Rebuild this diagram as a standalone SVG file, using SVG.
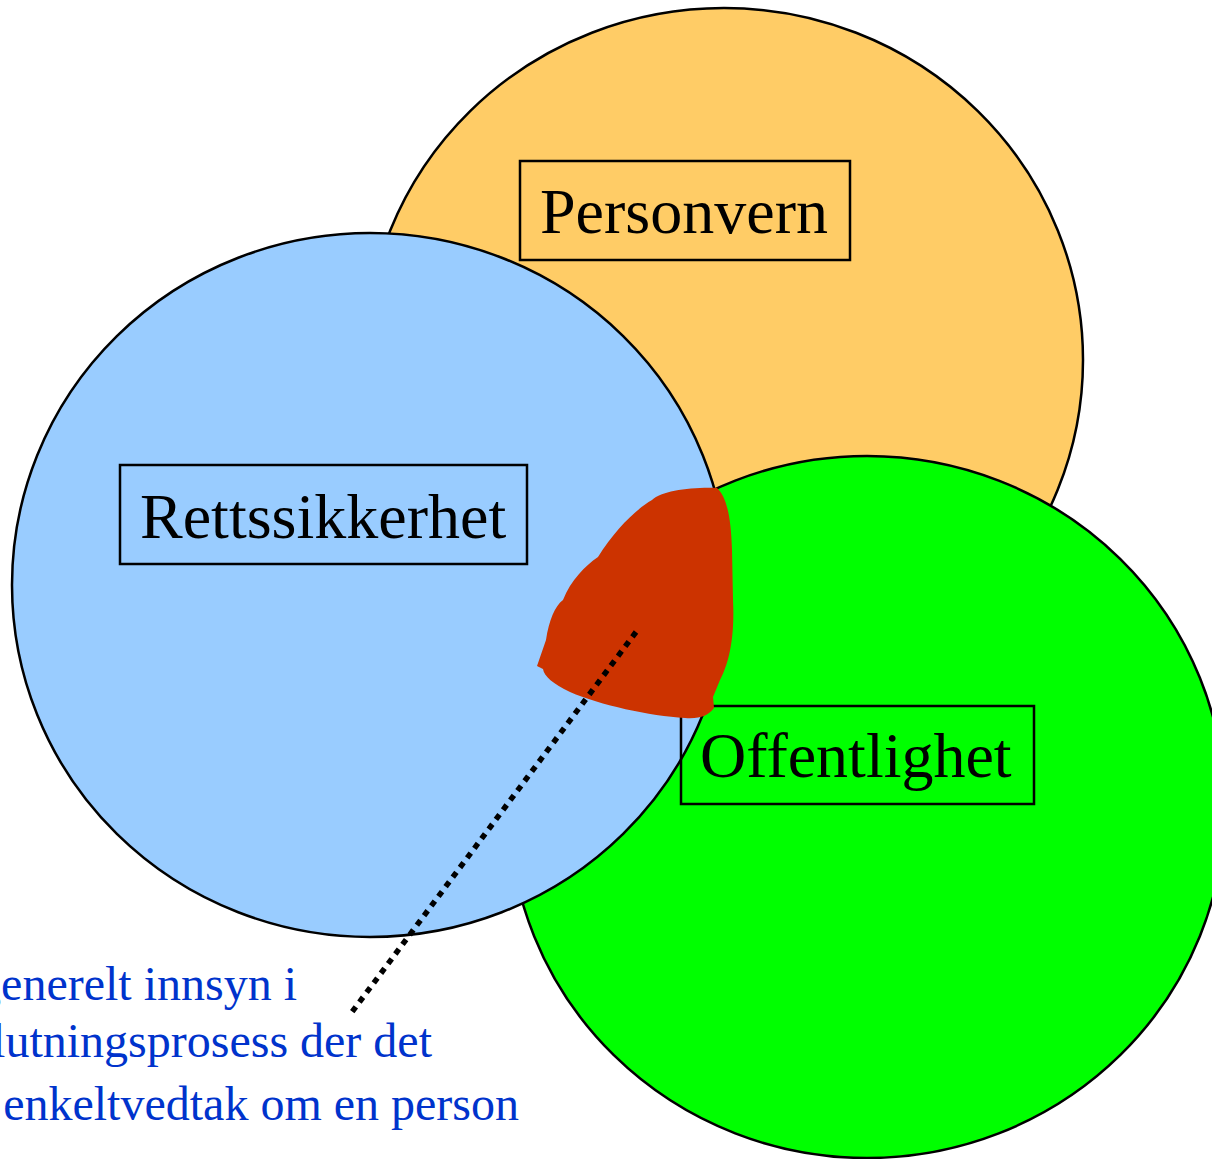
<svg xmlns="http://www.w3.org/2000/svg" width="1212" height="1159" viewBox="0 0 1212 1159">
<style>
.circ{stroke:#000;stroke-width:2.5}
.box{fill:none;stroke:#000;stroke-width:2.5}
.lbl{font-family:"Liberation Serif","Times New Roman",serif;font-size:64px;fill:#000}
.note{font-family:"Liberation Serif","Times New Roman",serif;font-size:48px;fill:#0033CC;text-anchor:end}
</style>
<rect width="1212" height="1159" fill="#fff"/>
<g id="personvern-circle"><ellipse class="circ" cx="724" cy="360" rx="359" ry="352" fill="#FFCC66"/></g>
<g id="offentlighet-circle"><ellipse class="circ" cx="867" cy="807" rx="358" ry="351" fill="#00FF00"/></g>
<g id="rettssikkerhet-circle"><ellipse class="circ" cx="370" cy="585" rx="358" ry="352" fill="#99CCFF"/></g>
<g id="personvern"><rect class="box" x="520" y="161" width="330" height="99"/><text class="lbl" x="540" y="233">Personvern</text></g>
<g id="rettssikkerhet"><rect class="box" x="120" y="465" width="407" height="99"/><text class="lbl" x="140" y="538">Rettssikkerhet</text></g>
<g id="offentlighet"><rect class="box" x="681" y="706" width="353" height="98"/><text class="lbl" x="700" y="777">Offentlighet</text></g>
<g id="overlap"><path fill="#CC3300" d="M717 488 C726 496 731 515 732 550 L733 600 C735 640 728 665 720 680 L713 697 L714 708 C708 716 700 719 685 718 C650 716 600 705 570 692 C553 684 544 676 543 669 L537 666 L546 640 C549 620 555 606 563 600 C571 580 585 566 598 557 C615 530 635 510 652 500 C662 491 690 487 717 488 Z"/></g>
<g id="connectors"><line x1="636" y1="632" x2="352" y2="1012" stroke="#000" stroke-width="5.5" stroke-dasharray="6 6"/></g>
<g id="note"><text class="note" x="297" y="1000">generelt innsyn i</text><text class="note" x="432" y="1057">lutningsprosess der det</text><text class="note" x="519" y="1120">enkeltvedtak om en person</text></g>
</svg>
